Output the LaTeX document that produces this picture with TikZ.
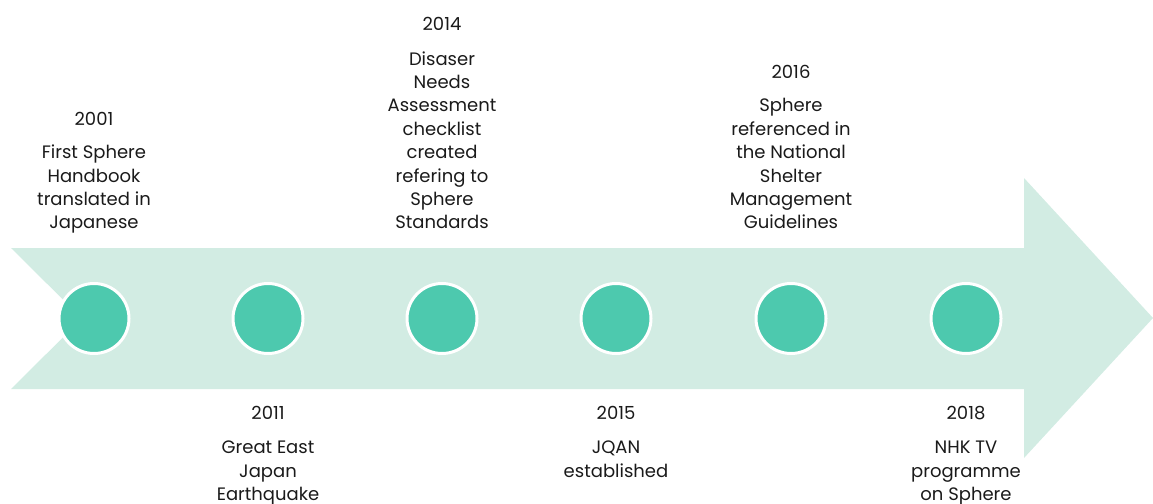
\documentclass[tikz,border=0pt]{standalone}
\usepackage{fontspec}
\setmainfont{Poppins}
\definecolor{band}{HTML}{D2ECE3}
\definecolor{dot}{HTML}{4DC9AE}
\definecolor{ink}{HTML}{1A1A1A}
\begin{document}
\begin{tikzpicture}[x=1pt,y=-1pt,
  yearlbl/.style={anchor=base,inner sep=0pt,text=ink,font=\fontsize{18}{23.4}\selectfont},
  desclbl/.style={anchor=south,inner sep=0pt,align=center,text depth=0pt,text=ink,font=\fontsize{18}{23.4}\selectfont},
  milestone/.style={circle,fill=dot,draw=white,line width=3pt,minimum size=70pt,inner sep=0pt}]
\useasboundingbox (0,0) rectangle (1153,503);
\fill[band] (11,248) -- (1024,248) -- (1024,178) -- (1153,318) -- (1024,458) -- (1024,389) -- (11,389) -- (82,318.5) -- cycle;
\foreach \i/\x in {1/94,2/268,3/442,4/616,5/791,6/966}{
  \node[milestone] (m\i) at (\x,318.5) {};
}
% top labels (anchored at baseline of last line)
\node[yearlbl] (y1) at (94,125.5) {2001};
\node[desclbl] (d1) at (94,229) {First Sphere\\Handbook\\translated in\\Japanese};
\node[yearlbl] (y3) at (442,30.5) {2014};
\node[desclbl] (d3) at (442,229) {Disaser\\Needs\\Assessment\\checklist\\created\\refering to\\Sphere\\Standards};
\node[yearlbl] (y5) at (791,78.5) {2016};
\node[desclbl] (d5) at (791,229) {Sphere\\referenced in\\the National\\Shelter\\Management\\Guidelines};
% bottom labels (anchored at baseline of last line)
\node[yearlbl] (y2) at (268,419.5) {2011};
\node[desclbl] (d2) at (268,500.8) {Great East\\Japan\\Earthquake};
\node[yearlbl] (y4) at (616,419.5) {2015};
\node[desclbl] (d4) at (616,477.4) {JQAN\\established};
\node[yearlbl] (y6) at (966,419.5) {2018};
\node[desclbl] (d6) at (966,500.8) {NHK TV\\programme\\on Sphere};
\end{tikzpicture}
\end{document}
